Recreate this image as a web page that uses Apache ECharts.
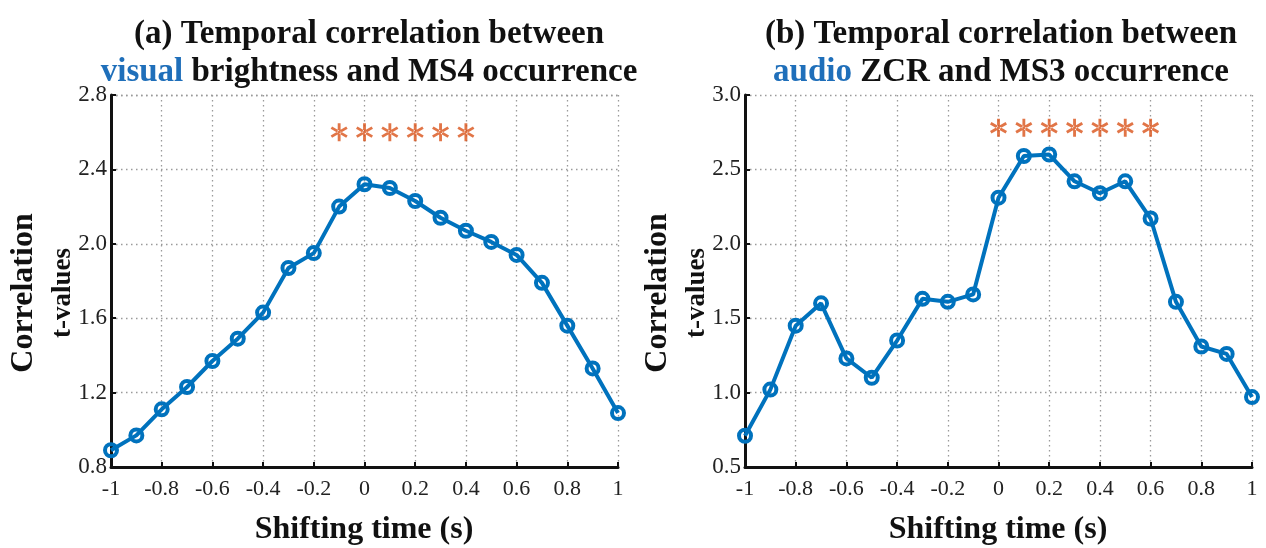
<!DOCTYPE html>
<html>
<head>
<meta charset="utf-8">
<script src="https://cdn.jsdelivr.net/npm/echarts@6/dist/echarts.min.js"></script>
<style>html,body{margin:0;padding:0;background:#fff}#c{width:1266px;height:548px}</style>
</head>
<body>
<div id="c"></div>
<script>
// ---- data ----
const shiftTimes = [-1,-0.9,-0.8,-0.7,-0.6,-0.5,-0.4,-0.3,-0.2,-0.1,0,0.1,0.2,0.3,0.4,0.5,0.6,0.7,0.8,0.9,1];
const visualT = [0.89,0.97,1.11,1.23,1.37,1.49,1.63,1.87,1.95,2.20,2.32,2.30,2.23,2.14,2.07,2.01,1.94,1.79,1.56,1.33,1.09];
const audioT  = [0.71,1.02,1.45,1.60,1.23,1.10,1.35,1.63,1.61,1.66,2.31,2.59,2.60,2.42,2.34,2.42,2.17,1.61,1.31,1.26,0.97];
const sigVisualX = [-0.1,0,0.1,0.2,0.3,0.4];
const sigVisualY = 2.6;
const sigAudioX = [0,0.1,0.2,0.3,0.4,0.5,0.6];
const sigAudioY = 2.78;
const xTicks = [-1,-0.8,-0.6,-0.4,-0.2,0,0.2,0.4,0.6,0.8,1];
const yTicksA = ['0.8','1.2','1.6','2.0','2.4','2.8'];
const yTicksB = ['0.5','1.0','1.5','2.0','2.5','3.0'];
const titleA1 = '(a) Temporal correlation between';
const titleA2 = ['visual', ' brightness and MS4 occurrence'];
const titleB1 = '(b) Temporal correlation between';
const titleB2 = ['audio', ' ZCR and MS3 occurrence'];
const xName = 'Shifting time (s)';
const yName1 = 'Correlation';
const yName2 = 't-values';

// ---- styling ----
const SERIF = '"Liberation Serif","Times New Roman",serif';
const BLUE = '#0072BD';
const ORANGE = '#D95319';
const asteriskPath = 'path://M-1.5,-10L1.5,-10L1.5,10L-1.5,10Z' +
  'M7.41,-6.3L8.91,-3.7L-7.41,6.3L-8.91,3.7Z' +
  'M-7.41,-6.3L-8.91,-3.7L7.41,6.3L8.91,3.7Z';

const grids = [
  {left:111, top:95, width:507, height:372},
  {left:745, top:95, width:507, height:372}
];

function xAxis(i){
  return {
    type:'value', gridIndex:i, min:xTicks[0], max:xTicks[xTicks.length-1], interval:0.2,
    axisLine:{show:true, onZero:false, lineStyle:{color:'#111', width:3}},
    axisTick:{show:true, inside:true, length:5, lineStyle:{color:'#111', width:2}},
    axisLabel:{fontFamily:SERIF, fontSize:22, color:'#222', margin:11,
      formatter:v=>String(Math.round(v*10)/10)},
    splitLine:{show:true, lineStyle:{color:'#9a9a9a', width:1.3, type:[1.5,3.5]}}
  };
}
function yAxis(i, labels){
  const lo = parseFloat(labels[0]), hi = parseFloat(labels[labels.length-1]);
  const step = parseFloat(labels[1]) - lo;
  return {
    type:'value', gridIndex:i, min:lo, max:hi, interval:step,
    axisLine:{show:true, onZero:false, lineStyle:{color:'#111', width:3}},
    axisTick:{show:true, inside:true, length:5, lineStyle:{color:'#111', width:2}},
    axisLabel:{fontFamily:SERIF, fontSize:23, color:'#222', margin:4,
      formatter:v=>{ const k = Math.round((v-lo)/step); return labels[k]; }},
    splitLine:{show:true, lineStyle:{color:'#9a9a9a', width:1.3, type:[1.5,3.5]}}
  };
}
function lineSeries(i, ys){
  return {
    type:'line', xAxisIndex:i, yAxisIndex:i,
    data: shiftTimes.map((x,k)=>[x, ys[k]]),
    symbol:'circle', symbolSize:12, showAllSymbol:true,
    lineStyle:{color:BLUE, width:4},
    itemStyle:{color:'rgba(0,0,0,0)', borderColor:BLUE, borderWidth:4},
    z:3, animation:false
  };
}
function starSeries(i, xs, y){
  return {
    type:'scatter', xAxisIndex:i, yAxisIndex:i,
    data: xs.map(x=>[x, y]),
    symbol:asteriskPath, symbolSize:[17,18],
    itemStyle:{color:ORANGE}, z:4, animation:false
  };
}
function titleRich(x, l1, l2){
  return {
    left:x, top:10, textAlign:'center',
    text:'{b|'+l1+'}\n{c|'+l2[0]+'}{b|'+l2[1]+'}',
    textStyle:{
      rich:{
        b:{fontFamily:SERIF, fontWeight:'bold', fontSize:33, color:'#111', lineHeight:38},
        c:{fontFamily:SERIF, fontWeight:'bold', fontSize:33, color:'#1f6fba', lineHeight:38}
      }
    }
  };
}
function yNameGraphics(cx1, cx2, cy){
  return [
    {type:'text', x:cx1, y:cy, rotation:Math.PI/2,
      style:{text:yName1, fontFamily:SERIF, fontWeight:'bold', fontSize:32, fill:'#111', textAlign:'center', textVerticalAlign:'middle'}},
    {type:'text', x:cx2, y:cy, rotation:Math.PI/2,
      style:{text:yName2, fontFamily:SERIF, fontWeight:'bold', fontSize:27, fill:'#111', textAlign:'center', textVerticalAlign:'middle'}}
  ];
}
function xNameGraphic(cx){
  return {type:'text', x:cx, y:530,
    style:{text:xName, fontFamily:SERIF, fontWeight:'bold', fontSize:32, fill:'#111', textAlign:'center', textVerticalAlign:'middle'}};
}

const chart = echarts.init(document.getElementById('c'), null, {renderer:'canvas'});
chart.setOption({
  backgroundColor:'#fff',
  animation:false,
  title:[titleRich(364, titleA1, titleA2), titleRich(996, titleB1, titleB2)],
  grid:grids,
  xAxis:[xAxis(0), xAxis(1)],
  yAxis:[yAxis(0, yTicksA), yAxis(1, yTicksB)],
  series:[
    lineSeries(0, visualT), starSeries(0, sigVisualX, sigVisualY),
    lineSeries(1, audioT), starSeries(1, sigAudioX, sigAudioY)
  ],
  graphic:[
    ...yNameGraphics(24, 63, 293), xNameGraphic(364),
    ...yNameGraphics(658, 697, 293), xNameGraphic(998)
  ]
});
</script>
</body>
</html>
